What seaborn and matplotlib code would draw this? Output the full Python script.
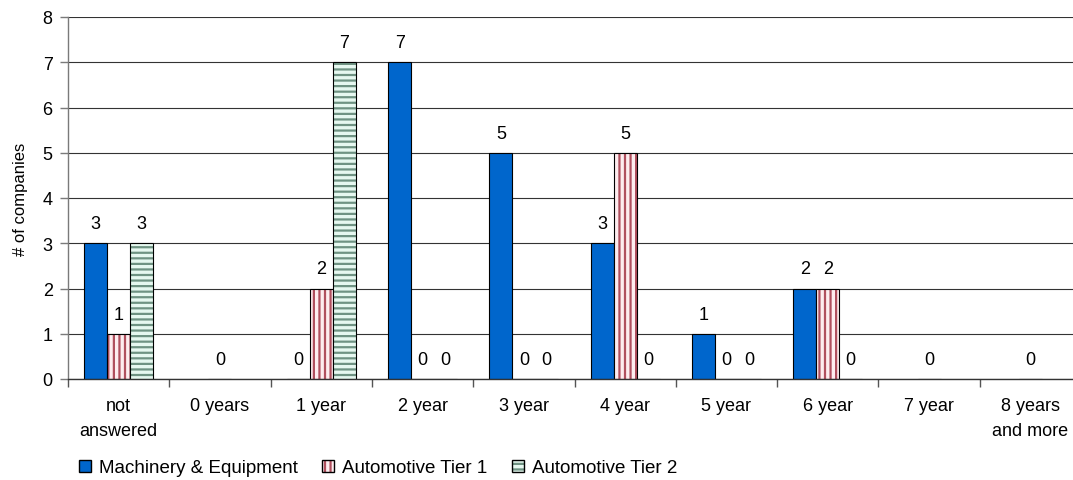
import numpy as np
import pandas as pd
import matplotlib
matplotlib.use("Agg")
import matplotlib.pyplot as plt
import matplotlib.colors as mcolors
from matplotlib.patches import Patch
import seaborn as sns

# Years of experience categories and company counts per industry segment
categories = ["not\nanswered", "0 years", "1 year", "2 year", "3 year",
              "4 year", "5 year", "6 year", "7 year", "8 years\nand more"]
series_names = ["Machinery & Equipment", "Automotive Tier 1", "Automotive Tier 2"]
machinery = [3, np.nan, 0, 7, 5, 3, 1, 2, np.nan, np.nan]
tier1 = [1, 0, 2, 0, 0, 5, 0, 2, 0, 0]
tier2 = [3, np.nan, 7, 0, 0, 0, 0, 0, np.nan, np.nan]
y_ticks = [0, 1, 2, 3, 4, 5, 6, 7, 8]

df = pd.DataFrame({
    "category": categories * 3,
    "series": np.repeat(series_names, len(categories)),
    "companies": machinery + tier1 + tier2,
}).dropna()

# Fill colour, hatch pattern and stripe colour of each series
styles = {
    "Machinery & Equipment": dict(face="#0066CC", hatch=None, stripe=None),
    "Automotive Tier 1": dict(face="#FDEDEF", hatch="|||", stripe="#B0505E"),
    "Automotive Tier 2": dict(face="#E6F8F0", hatch="---", stripe="#6F9383"),
}
palette = {k: v["face"] for k, v in styles.items()}

sns.set_style("white")
plt.rcParams["font.family"] = ["Liberation Sans", "DejaVu Sans"]
plt.rcParams["text.color"] = "black"
plt.rcParams["xtick.color"] = "black"
plt.rcParams["ytick.color"] = "black"
plt.rcParams["axes.labelcolor"] = "black"
plt.rcParams["hatch.linewidth"] = 1.6

W, H = 1073, 481
fig = plt.figure(figsize=(W / 100, H / 100), dpi=100)
ax = fig.add_axes([68 / W, 1 - 380 / H, (1081 - 68) / W, (380 - 18) / H])

sns.barplot(data=df, x="category", y="companies", hue="series",
            order=categories, hue_order=series_names, palette=palette,
            width=0.68, gap=0, saturation=1, errorbar=None,
            edgecolor="black", linewidth=0.8, legend=False, ax=ax)

for name, cont in zip(series_names, ax.containers):
    st = styles[name]
    for p in cont.patches:
        if st["hatch"]:
            p.set_hatch(st["hatch"])
            p._hatch_color = mcolors.to_rgba(st["stripe"])
    ax.bar_label(cont, fmt="%g", padding=8, fontsize=13, color="black")

ax.set_ylim(0, 8)
ax.set_yticks(y_ticks)
ax.set_xlim(-0.5, len(categories) - 0.5)
ax.set_axisbelow(True)
ax.yaxis.grid(True, color="#333333", linewidth=0.8)
ax.xaxis.grid(False)

for s in ("top", "right"):
    ax.spines[s].set_visible(False)
ax.spines["left"].set_color("#7a7a7a")
ax.spines["left"].set_linewidth(1.0)
ax.spines["bottom"].set_color("#333333")
ax.spines["bottom"].set_linewidth(1.0)

ax.tick_params(axis="y", which="major", direction="out", length=6,
               width=1, color="#7a7a7a", labelsize=13, pad=5, left=True)
ax.set_xticks(np.arange(-0.5, len(categories), 1), minor=True)
ax.tick_params(axis="x", which="major", length=0, labelsize=13, pad=13)
ax.tick_params(axis="x", which="minor", direction="out", length=6,
               width=1, color="#555555", bottom=True)
for lbl in ax.get_xticklabels():
    lbl.set_linespacing(1.6)

ax.set_xlabel("")
ax.set_ylabel("# of companies", fontsize=12)
ax.yaxis.set_label_coords(-0.039, 0.5)

handles = []
for name in series_names:
    st = styles[name]
    h = Patch(facecolor=st["face"], edgecolor="black", linewidth=1.0,
              hatch=st["hatch"], label=name)
    if st["stripe"]:
        h._hatch_color = mcolors.to_rgba(st["stripe"])
    handles.append(h)

fig.legend(handles=handles, loc="center left",
           bbox_to_anchor=(79 / W, 1 - 469 / H), ncol=3, frameon=False,
           fontsize=13.5, handlelength=0.62, handleheight=0.62,
           handletextpad=0.45, columnspacing=1.3, borderpad=0,
           borderaxespad=0)

fig.savefig("out.png", dpi=100)
